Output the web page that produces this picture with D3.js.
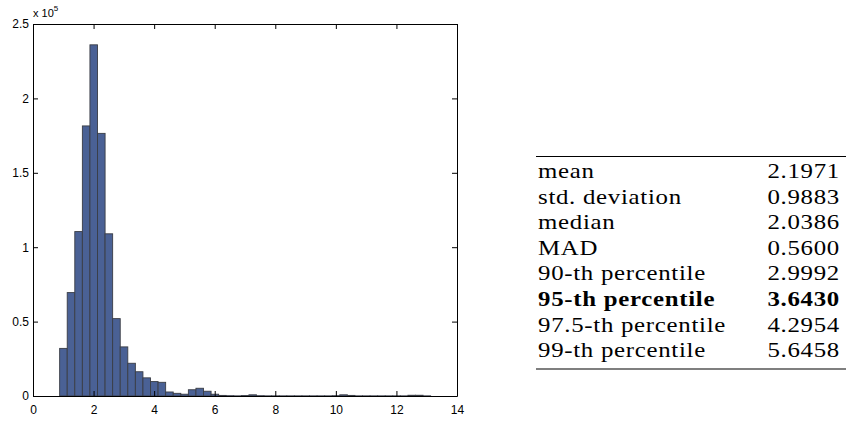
<!DOCTYPE html>
<html>
<head>
<meta charset="utf-8">
<script src="https://cdn.jsdelivr.net/npm/d3@7/dist/d3.min.js"></script>
<style>
  body { margin: 0; background: #fff; }
  svg { display: block; }
</style>
</head>
<body>
<svg id="chart" width="846" height="421"></svg>
<script>
// histogram bins (counts in units of 10^5)
const BIN_START = 0.88
const BIN_WIDTH = 0.25
const COUNTS = [
  0.32, 0.695, 1.105, 1.815, 2.36, 1.765, 1.09, 0.52, 0.33, 0.22,
  0.163, 0.122, 0.097, 0.092, 0.027, 0.018, 0.012, 0.042, 0.052, 0.032,
  0.012, 0.004, 0.002, 0.001, 0.003, 0.008, 0.002, 0.001, 0.001, 0.001,
  0.001, 0.001, 0.001, 0.001, 0.001, 0.001, 0.002, 0.008, 0.004, 0.001,
  0.001, 0.001, 0.001, 0.001, 0.001, 0.001, 0.005, 0.005, 0.001
]

const X_TICKS = [0, 2, 4, 6, 8, 10, 12, 14]
const Y_TICKS = [0, 0.5, 1, 1.5, 2, 2.5]

// statistics table
const STAT_LABELS = [
  'mean', 'std. deviation', 'median', 'MAD',
  '90-th percentile', '95-th percentile', '97.5-th percentile', '99-th percentile'
]
const STAT_VALUES = ['2.1971', '0.9883', '2.0386', '0.5600', '2.9992', '3.6430', '4.2954', '5.6458']
const BOLD_ROW = 5

const svg = d3.select('#chart')
svg.append('rect').attr('width', 846).attr('height', 421).attr('fill', '#fff')

const plot = { left: 33, right: 457, top: 24, bottom: 396 }

const x = d3.scaleLinear().domain([0, 14]).range([plot.left, plot.right])
const y = d3.scaleLinear().domain([0, 2.5]).range([plot.bottom, plot.top])

const bins = COUNTS.map((c, i) => ({ x0: BIN_START + i * BIN_WIDTH, x1: BIN_START + (i + 1) * BIN_WIDTH, c }))

// bars
svg.append('g').attr('class', 'bars')
  .selectAll('rect')
  .data(bins)
  .enter().append('rect')
  .attr('x', d => x(d.x0))
  .attr('width', d => x(d.x1) - x(d.x0))
  .attr('y', d => y(d.c))
  .attr('height', d => y(0) - y(d.c))
  .attr('fill', '#4a6195')
  .attr('stroke', '#3a3d45')
  .attr('stroke-width', 0.9)

const tickFont = g => g
  .attr('font-family', '"Liberation Sans", Arial, sans-serif')
  .attr('font-size', 12)

// bottom axis (ticks point inward)
svg.append('g')
  .attr('transform', `translate(0,${plot.bottom})`)
  .call(d3.axisBottom(x).tickValues(X_TICKS).tickSizeInner(-5).tickSizeOuter(0).tickPadding(9))
  .call(tickFont)
  .call(g => g.selectAll('text').attr('fill', '#000'))

// top axis
svg.append('g')
  .attr('transform', `translate(0,${plot.top})`)
  .call(d3.axisTop(x).tickValues(X_TICKS).tickSizeInner(-5).tickSizeOuter(0).tickFormat(''))

// left axis
svg.append('g')
  .attr('transform', `translate(${plot.left},0)`)
  .call(d3.axisLeft(y).tickValues(Y_TICKS).tickFormat(d3.format('~g')).tickSizeInner(-5).tickSizeOuter(0).tickPadding(4))
  .call(tickFont)
  .call(g => g.selectAll('text').attr('fill', '#000'))

// right axis
svg.append('g')
  .attr('transform', `translate(${plot.right},0)`)
  .call(d3.axisRight(y).tickValues(Y_TICKS).tickSizeInner(-5).tickSizeOuter(0).tickFormat(''))

svg.selectAll('.domain').attr('stroke', '#000')
svg.selectAll('.tick line').attr('stroke', '#000')

// exponent label
const expo = svg.append('text')
  .attr('x', plot.left)
  .attr('y', 17)
  .attr('font-family', '"Liberation Sans", Arial, sans-serif')
  .attr('font-size', 11)
  .attr('fill', '#000')
expo.append('tspan').text('x 10')
expo.append('tspan').attr('font-size', 8).attr('dy', -6).text('5')

// table
const table = { left: 538, right: 840, ruleLeft: 536, ruleRight: 846, top: 156.5, first: 178, step: 25.6, bottom: 369 }
const tg = svg.append('g')
  .style('font-family', "'Liberation Serif', 'Times New Roman', 'DejaVu Serif', serif")
  .attr('font-size', 21)
  .attr('letter-spacing', 0.6)
  .attr('fill', '#000')

// Times is narrower than Computer Modern: stretch horizontally so that
// "90-th percentile" is ~168px wide, as in the reference
const probe = tg.append('text').text('90-th percentile')
const sx = 168 / probe.node().getComputedTextLength()
probe.remove()

tg.append('line')
  .attr('x1', table.ruleLeft).attr('x2', table.ruleRight)
  .attr('y1', table.top).attr('y2', table.top)
  .attr('stroke', '#000').attr('stroke-width', 1.2)
tg.append('line')
  .attr('x1', table.ruleLeft).attr('x2', table.ruleRight)
  .attr('y1', table.bottom).attr('y2', table.bottom)
  .attr('stroke', '#000').attr('stroke-width', 1.2)

tg.selectAll('text.lbl')
  .data(STAT_LABELS)
  .enter().append('text')
  .attr('class', 'lbl')
  .attr('transform', (d, i) => `translate(${table.left},${table.first + i * table.step}) scale(${sx},1)`)
  .attr('font-weight', (d, i) => i === BOLD_ROW ? 'bold' : 'normal')
  .text(d => d)

tg.selectAll('text.val')
  .data(STAT_VALUES)
  .enter().append('text')
  .attr('class', 'val')
  .attr('transform', (d, i) => `translate(${table.right},${table.first + i * table.step}) scale(${sx},1)`)
  .attr('text-anchor', 'end')
  .attr('font-weight', (d, i) => i === BOLD_ROW ? 'bold' : 'normal')
  .text(d => d)
</script>
</body>
</html>
